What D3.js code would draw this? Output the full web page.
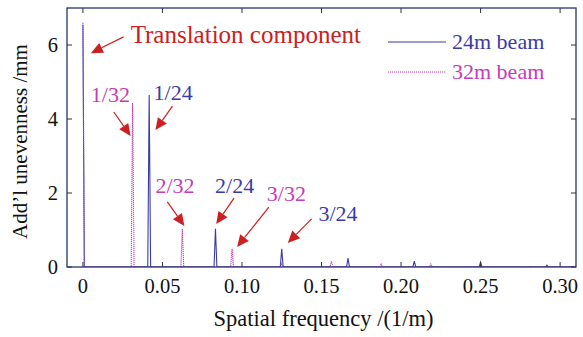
<!DOCTYPE html>
<html>
<head>
<meta charset="utf-8">
<script src="https://cdn.jsdelivr.net/npm/d3@7"></script>
<style>
  html, body { margin: 0; padding: 0; background: #fff; }
  svg { display: block; font-family: "Liberation Serif", "Times New Roman", serif; }
</style>
</head>
<body>
<svg id="chart" width="583" height="337"></svg>
<script>
// Harmonic peaks of the additional unevenness spectrum for the two beam spans
const span24 = 24;
const harmonics24 = [0, 1, 2, 3, 4, 5, 6, 7];
const amp24 = [6.55, 4.65, 1.03, 0.49, 0.24, 0.16, 0.13, 0.05];

const span32 = 32;
const harmonics32 = [0, 1, 2, 3, 4, 5, 6, 7, 8, 9];
const amp32 = [6.6, 4.43, 1.03, 0.49, 0.10, 0.16, 0.08, 0.08, 0.05, 0.02];

const xTicks = [0, 0.05, 0.10, 0.15, 0.20, 0.25, 0.30];
const yTicks = [0, 2, 4, 6];

const seriesNames = ["24m beam", "32m beam"];

// Callout labels: text position and arrow tail/tip in data units (frequency, mm)
const calloutText = ["Translation component", "1/32", "1/24", "2/32", "2/24", "3/32", "3/24"];
const calloutSeries = ["red", "32", "24", "32", "24", "32", "24"];
const calloutLabelAt = [[0.030, 6.05], [0.005, 4.46], [0.0444, 4.51], [0.0456, 2.0], [0.0831, 2.0], [0.1156, 1.78], [0.1481, 1.24]];
const calloutTail = [[0.0256, 6.22], [0.0194, 4.19], [0.0563, 4.35], [0.0531, 1.76], [0.095, 1.86], [0.1169, 1.62], [0.1438, 1.30]];
const calloutTip = [[0.005, 5.78], [0.030, 3.54], [0.0456, 3.70], [0.0638, 1.11], [0.0838, 1.16], [0.0969, 0.54], [0.1288, 0.65]];

const colors = { "24": "#3b3ba6", "32": "#c43cb8", red: "#cc2020" };
const frameColor = "#243766";

const svg = d3.select("#chart");
const plotLeft = 67, plotRight = 576, plotTop = 8, plotBottom = 267;

const x = d3.scaleLinear().domain([-0.01, 0.31]).range([plotLeft, plotRight]);
const y = d3.scaleLinear().domain([0, 7]).range([plotBottom, plotTop]);

svg.append("rect").attr("width", 583).attr("height", 337).attr("fill", "#fff");

svg.append("defs").append("clipPath").attr("id", "plot-clip")
  .append("rect").attr("x", plotLeft).attr("y", plotTop - 1)
  .attr("width", plotRight - plotLeft).attr("height", plotBottom - plotTop + 1);

// Build a spectrum trace: a narrow triangular spike at every harmonic
const halfWidth = 0.0009;
function spectrum(span, harmonics, amps) {
  const pts = [];
  harmonics.forEach((n, i) => {
    const f = n / span;
    if (f > 0) pts.push([f - halfWidth, 0]);
    pts.push([f, amps[i]]);
    pts.push([f + halfWidth, 0]);
  });
  pts.push([0.32, 0]);
  return pts;
}

const line = d3.line().x(d => x(d[0])).y(d => y(d[1]));
const plot = svg.append("g").attr("clip-path", "url(#plot-clip)");

plot.append("path")
  .datum(spectrum(span24, harmonics24, amp24))
  .attr("fill", "none")
  .attr("stroke", colors["24"])
  .attr("stroke-width", 1.1)
  .attr("d", line);

plot.append("path")
  .datum(spectrum(span32, harmonics32, amp32))
  .attr("fill", "none")
  .attr("stroke", colors["32"])
  .attr("stroke-width", 1.1)
  .attr("stroke-dasharray", "1.2,0.8")
  .attr("d", line);

// Inward ticks on all four sides
const tickLen = 5;
const tickG = svg.append("g").attr("stroke", "#333").attr("stroke-width", 1);
xTicks.forEach(t => {
  tickG.append("line").attr("x1", x(t)).attr("x2", x(t)).attr("y1", plotBottom).attr("y2", plotBottom - tickLen);
  tickG.append("line").attr("x1", x(t)).attr("x2", x(t)).attr("y1", plotTop).attr("y2", plotTop + tickLen);
});
yTicks.forEach(t => {
  tickG.append("line").attr("x1", plotLeft).attr("x2", plotLeft + tickLen).attr("y1", y(t)).attr("y2", y(t));
  tickG.append("line").attr("x1", plotRight).attr("x2", plotRight - tickLen).attr("y1", y(t)).attr("y2", y(t));
});

// Plot frame
svg.append("rect")
  .attr("x", plotLeft).attr("y", plotTop)
  .attr("width", plotRight - plotLeft).attr("height", plotBottom - plotTop)
  .attr("fill", "none").attr("stroke", frameColor).attr("stroke-width", 1.3);

// Tick labels
const fmtX = d => d === 0 ? "0" : d3.format(".2f")(d);
svg.append("g").selectAll("text").data(xTicks).join("text")
  .attr("x", d => x(d)).attr("y", 293)
  .attr("text-anchor", "middle")
  .attr("font-size", 20.5).attr("fill", "#111")
  .text(fmtX);

svg.append("g").selectAll("text").data(yTicks).join("text")
  .attr("x", 58).attr("y", d => y(d) + 7)
  .attr("text-anchor", "end")
  .attr("font-size", 20.5).attr("fill", "#111")
  .text(d => d);

// Axis titles
svg.append("text")
  .attr("x", (plotLeft + plotRight) / 2 + 2).attr("y", 326)
  .attr("text-anchor", "middle").attr("font-size", 22.5).attr("fill", "#111")
  .text("Spatial frequency /(1/m)");

svg.append("text")
  .attr("transform", `translate(27, ${(plotTop + plotBottom) / 2 + 4}) rotate(-90)`)
  .attr("text-anchor", "middle").attr("font-size", 21).attr("fill", "#111")
  .text("Add\u2019l unevenness /mm");

// Legend
const legendRows = [
  { name: seriesNames[0], key: "24", dash: null, y: 42 },
  { name: seriesNames[1], key: "32", dash: "1.2,0.8", y: 72 }
];
legendRows.forEach(r => {
  svg.append("line")
    .attr("x1", 388).attr("x2", 446).attr("y1", r.y).attr("y2", r.y)
    .attr("stroke", colors[r.key]).attr("stroke-width", 1.1)
    .attr("stroke-dasharray", r.dash);
  svg.append("text")
    .attr("x", 452).attr("y", r.y + 7)
    .attr("font-size", 22).attr("fill", colors[r.key])
    .text(r.name);
});

// Callouts with red arrows
const ann = svg.append("g");
calloutText.forEach((t, i) => {
  const [lx, ly] = calloutLabelAt[i];
  ann.append("text")
    .attr("x", x(lx)).attr("y", y(ly))
    .attr("font-size", i === 0 ? 25 : 22)
    .attr("fill", colors[calloutSeries[i]])
    .text(t);

  const x0 = x(calloutTail[i][0]), y0 = y(calloutTail[i][1]);
  const x1 = x(calloutTip[i][0]), y1 = y(calloutTip[i][1]);
  const ang = Math.atan2(y1 - y0, x1 - x0);
  const headLen = 12, headHalf = 5.5;
  const bx = x1 - headLen * Math.cos(ang), by = y1 - headLen * Math.sin(ang);
  ann.append("line")
    .attr("x1", x0).attr("y1", y0).attr("x2", bx).attr("y2", by)
    .attr("stroke", colors.red).attr("stroke-width", 1.2);
  const px = -Math.sin(ang) * headHalf, py = Math.cos(ang) * headHalf;
  ann.append("path")
    .attr("d", `M${x1},${y1}L${bx + px},${by + py}L${bx - px},${by - py}Z`)
    .attr("fill", colors.red);
});
</script>
</body>
</html>
